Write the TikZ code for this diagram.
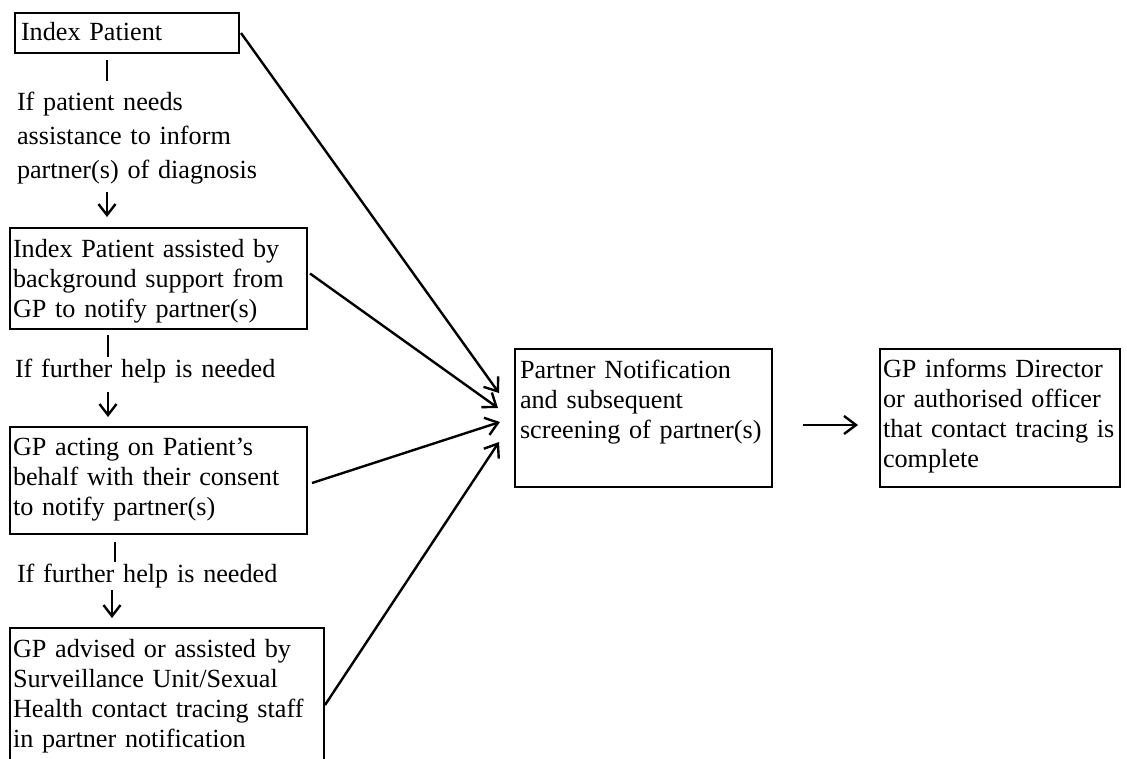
\documentclass[tikz,border=0pt]{standalone}
\usepackage{fontspec}
\setmainfont{Liberation Serif}
\usetikzlibrary{arrows.meta,calc}
\newcommand\bxfont{\fontsize{26.2}{30}\selectfont}
\newcommand\lbfont{\fontsize{26.2}{34}\selectfont}
\begin{document}
\begin{tikzpicture}[x=1pt,y=-1pt,
  box/.style={draw,line width=2.8pt,rectangle,anchor=north west,inner ysep=0pt,outer sep=0pt,align=left,font=\bxfont},
  lbl/.style={anchor=base west,inner sep=0pt,outer sep=0pt,align=left,font=\lbfont,text width=300pt},
  link/.style={line width=2.4pt,-{Straight Barb[length=12pt,width=18pt,line width=2.4pt]}},
  bar/.style={line width=2.4pt},
  down/.style={line width=2.4pt,-{Straight Barb[length=11pt,width=17pt,line width=2.4pt]}}]
\useasboundingbox (0,0) rectangle (1127,758);
\clip (0,0) rectangle (1127,758);

\node[box,inner xsep=6pt,text width=212pt,text height=27pt,text depth=13pt] (b1) at (15,13) {Index Patient};
\node[box,inner xsep=3pt,text width=291pt,text height=29pt,text depth=72pt] (b2) at (10,228) {Index Patient assisted by\\background support from\\GP to notify partner(s)};
\node[box,inner xsep=3pt,text width=291pt,text height=28pt,text depth=79pt] (b3) at (10,427) {GP acting on Patient’s\\behalf with their consent\\to notify partner(s)};
\node[box,inner xsep=3pt,text width=308pt,text height=29pt,text depth=125pt] (b4) at (10,628) {GP advised or assisted by\\Surveillance Unit/Sexual\\Health contact tracing staff\\in partner notification};
\node[box,inner xsep=5pt,text width=247pt,text height=29pt,text depth=109pt] (pn) at (515,349) {Partner Notification\\and subsequent\\screening of partner(s)};
\node[box,inner xsep=3pt,text width=234pt,text height=28pt,text depth=110pt] (gp) at (880,349) {GP informs Director\\or authorised officer\\that contact tracing is\\complete};

\node[lbl] (l1) at (17,110) {If patient needs\\assistance to inform\\partner(s) of diagnosis};
\node[lbl] (l2) at (15,377) {If further help is needed};
\node[lbl] (l3) at (17,582) {If further help is needed};

\draw[bar] (b1.south west) ++(92,7) -- ++(0,21);
\draw[down] (b2.north west) ++(97,-36) -- ++(0,25);
\draw[bar] (b2.south west) ++(98,6) -- ++(0,22);
\draw[down] (b3.north west) ++(98,-35) -- ++(0,25);
\draw[bar] (b3.south west) ++(105,8) -- ++(0,20);
\draw[down] (b4.north west) ++(102,-38) -- ++(0,28);

\coordinate (t1) at (499,393);
\coordinate (t2) at (498,408);
\coordinate (t3) at (500,422);
\coordinate (t4) at (499,442);
\draw[link] ([xshift=2pt]b1.east) -- (t1);
\draw[link] ([xshift=3pt,yshift=5pt]b2.east) -- (t2);
\draw[link] ([xshift=5pt,yshift=-2.5pt]b3.east) -- (t3);
\draw[link] ([xshift=1pt]b4.east) -- (t4);
\draw[link,shorten <=31pt,shorten >=22pt] ([yshift=-7pt]pn.east) -- ([yshift=-7pt]gp.west);
\end{tikzpicture}
\end{document}
